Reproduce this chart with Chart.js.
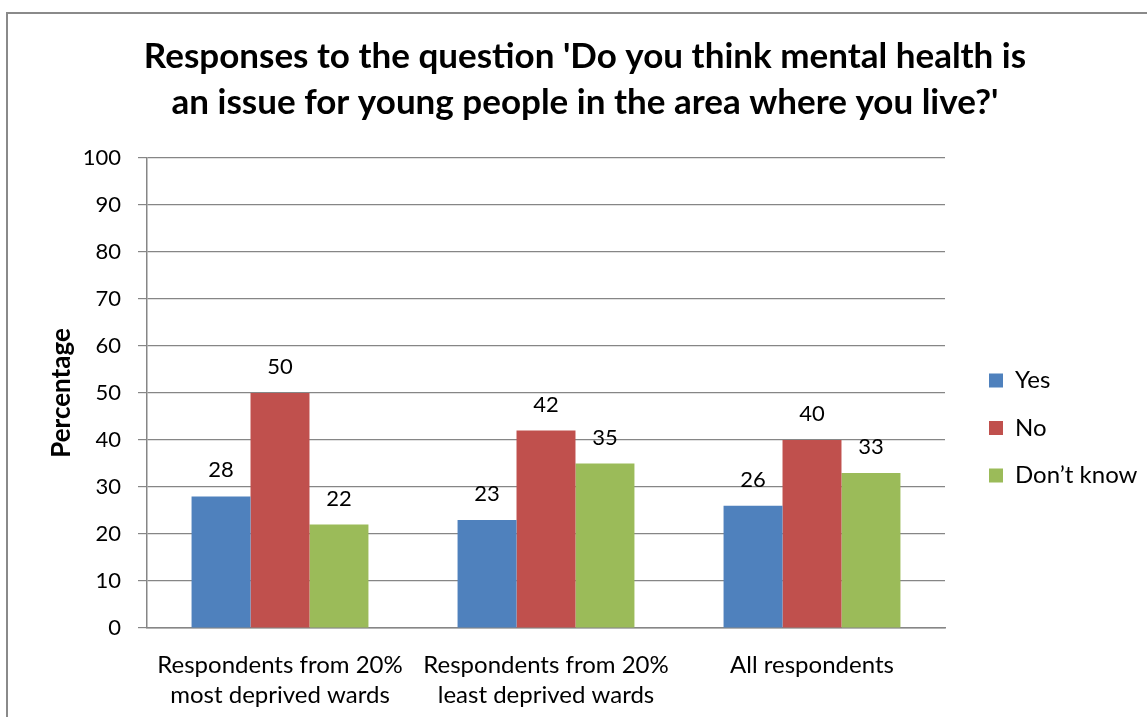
<!DOCTYPE html>
<html>
<head>
<meta charset="utf-8">
<script src="https://cdn.jsdelivr.net/npm/chart.js@4.4.1/dist/chart.umd.min.js"></script>
<style>
  html, body { margin: 0; padding: 0; background: #ffffff; }
  #wrap { position: relative; width: 1147px; height: 717px; }
</style>
</head>
<body>
<div id="wrap"><canvas id="chart" width="1147" height="717"></canvas></div>
<script>
// Survey responses, percentage of respondents in each group
const categories = [
  ['Respondents from 20%', 'most deprived wards'],
  ['Respondents from 20%', 'least deprived wards'],
  ['All respondents']
];
const seriesNames = ['Yes', 'No', 'Don\u2019t know'];
const yesValues = [28, 23, 26];
const noValues = [50, 42, 40];
const dontKnowValues = [22, 35, 33];
const titleLines = [
  'Responses to the question \'Do you think mental health is',
  'an issue for young people in the area where you live?\''
];
const yAxisLabel = 'Percentage';

const FONT = 'Lato, "Open Sans", "Liberation Sans", sans-serif';
const GRID = '#868686';
const COLORS = ['#4F81BD', '#C0504D', '#9BBB59'];

// Outer frame around the whole chart
const framePlugin = {
  id: 'frame',
  beforeDraw(chart) {
    const ctx = chart.ctx;
    ctx.save();
    ctx.strokeStyle = '#8a8a8a';
    ctx.lineWidth = 2;
    ctx.strokeRect(7, 13, chart.width + 20, chart.height + 20);
    ctx.restore();
  }
};

// Value printed above each bar
const valueLabels = {
  id: 'valueLabels',
  afterDatasetsDraw(chart) {
    const ctx = chart.ctx;
    ctx.save();
    ctx.font = '22px ' + FONT;
    ctx.fillStyle = '#000000';
    ctx.textAlign = 'center';
    ctx.textBaseline = 'middle';
    chart.data.datasets.forEach((ds, di) => {
      const meta = chart.getDatasetMeta(di);
      meta.data.forEach((bar, i) => {
        ctx.fillText(String(ds.data[i]), bar.x, bar.y - 26);
      });
    });
    ctx.restore();
  }
};

// Legend sits a little away from the plot and is centred on the area below the title
const LEGEND_WIDTH = 195;
const LEGEND_GAP = 44;
const LEGEND_DROP = 35;
const legendPlacement = {
  id: 'legendPlacement',
  beforeLayout(chart) {
    const lg = chart.legend;
    if (lg && !lg._fixedFit) {
      const fit = lg.fit;
      lg.fit = function () {
        fit.call(this);
        this.width = LEGEND_WIDTH;
      };
      lg._fixedFit = true;
    }
  },
  afterLayout(chart) {
    const lg = chart.legend;
    const area = chart.chartArea;
    const pad = lg.options.labels.padding;
    const dx = area.right + LEGEND_GAP - (lg.left + pad);
    const dy = (area.top + area.bottom) / 2 + LEGEND_DROP - (lg.top + lg.bottom) / 2;
    lg.left += dx; lg.right += dx;
    lg.top += dy; lg.bottom += dy;
  }
};

new Chart(document.getElementById('chart'), {
  type: 'bar',
  data: {
    labels: categories,
    datasets: [
      { label: seriesNames[0], data: yesValues, backgroundColor: COLORS[0] },
      { label: seriesNames[1], data: noValues, backgroundColor: COLORS[1] },
      { label: seriesNames[2], data: dontKnowValues, backgroundColor: COLORS[2] }
    ]
  },
  options: {
    responsive: false,
    animation: false,
    layout: { padding: { left: 30, right: 7, top: 0, bottom: 0 } },
    datasets: {
      bar: { barPercentage: 1.0, categoryPercentage: 0.665, borderWidth: 0 }
    },
    plugins: {
      title: {
        display: true,
        text: titleLines,
        color: '#000000',
        font: { family: FONT, size: 35, weight: 'bold', lineHeight: 46 / 35 },
        padding: { top: 34, bottom: 32 }
      },
      legend: {
        position: 'right',
        align: 'center',
        labels: {
          color: '#000000',
          font: { family: FONT, size: 24 },
          boxWidth: 14,
          boxHeight: 14,
          padding: 23.5
        }
      },
      tooltip: { enabled: false }
    },
    scales: {
      x: {
        grid: { display: false, drawTicks: false },
        border: { display: true, color: GRID, width: 1.5 },
        ticks: {
          color: '#000000',
          font: { family: FONT, size: 24, lineHeight: 1.25 },
          padding: 22,
          maxRotation: 0,
          autoSkip: false
        },
        afterFit(scale) { scale.height = 89; }
      },
      y: {
        min: 0,
        max: 100,
        ticks: {
          stepSize: 10,
          color: '#000000',
          font: { family: FONT, size: 22 },
          padding: 17
        },
        grid: { color: GRID, lineWidth: 1.2, tickLength: 9, drawTicks: true },
        border: { display: true, color: GRID, width: 1.5 },
        title: {
          display: true,
          text: yAxisLabel,
          color: '#000000',
          font: { family: FONT, size: 26, weight: 'bold', lineHeight: 1.2 },
          padding: { top: 16, bottom: 0 }
        },
        afterFit(scale) { scale.width = 117; }
      }
    }
  },
  plugins: [framePlugin, valueLabels, legendPlacement]
});
</script>
</body>
</html>
